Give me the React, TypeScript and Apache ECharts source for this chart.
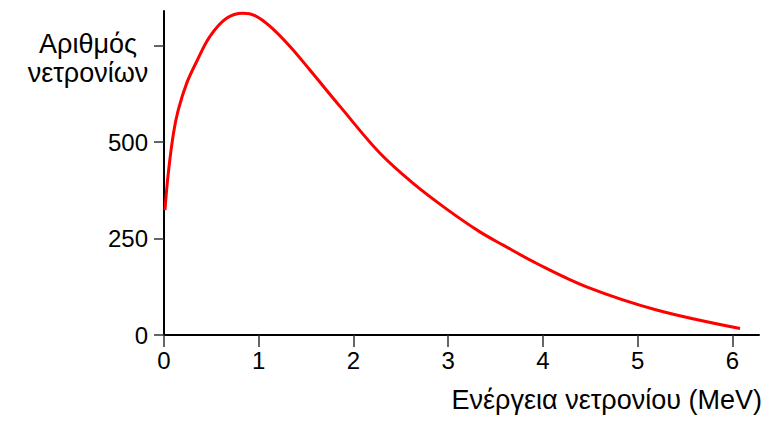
import React, { useEffect, useRef } from "react";
import * as echarts from "echarts";

// Neutron energy spectrum (fission neutrons)
const energyMeV = [0.01, 0.045, 0.1, 0.15, 0.24, 0.345, 0.485, 0.66, 0.835, 0.96, 1.12, 1.33, 1.54, 1.86, 2.28, 2.63, 2.98, 3.33, 3.58, 3.93, 4.46, 5.2, 6.08];
const neutronCount = [324, 419, 523, 583, 653, 709, 774, 821, 834, 828, 800, 748, 687, 592, 471, 393, 327, 268, 233, 186, 125, 65, 17];

const xTicks = [0, 1, 2, 3, 4, 5, 6];
const yTicks = [0, 250, 500, 750];
const yLabels = [0, 250, 500];

const yTitle = "Αριθμός\nνετρονίων";
const xTitle = "Ενέργεια νετρονίου (MeV)";

const FONT = "'Liberation Sans', Arial, sans-serif";

export default function App() {
  const ref = useRef<HTMLDivElement>(null);

  useEffect(() => {
    if (!ref.current) return;
    const chart = echarts.init(ref.current, null, { renderer: "svg" });
    chart.setOption({
      animation: false,
      backgroundColor: "#ffffff",
      grid: { left: 164, top: 11, right: 25, bottom: 88, containLabel: false },
      xAxis: {
        type: "value",
        min: 0,
        max: 6.28,
        axisLine: { show: true, lineStyle: { color: "#000", width: 2 } },
        axisTick: {
          show: true,
          length: 12,
          customValues: xTicks,
          lineStyle: { color: "#333", width: 1.5 },
        },
        axisLabel: {
          customValues: xTicks,
          margin: 13,
          color: "#000",
          fontFamily: FONT,
          fontSize: 24,
        },
        splitLine: { show: false },
      },
      yAxis: {
        type: "value",
        min: 0,
        max: 840,
        axisLine: { show: true, lineStyle: { color: "#000", width: 2 } },
        axisTick: {
          show: true,
          length: 10,
          customValues: yTicks,
          lineStyle: { color: "#333", width: 1.5 },
        },
        axisLabel: {
          customValues: yLabels,
          margin: 16,
          color: "#000",
          fontFamily: FONT,
          fontSize: 24,
        },
        splitLine: { show: false },
      },
      graphic: [
        {
          type: "text",
          x: 88,
          y: 29,
          style: {
            text: yTitle,
            fill: "#000",
            fontFamily: FONT,
            fontSize: 27,
            align: "center",
            verticalAlign: "top",
            lineHeight: 29,
          },
        },
        {
          type: "text",
          x: 762,
          y: 386,
          style: {
            text: xTitle,
            fill: "#000",
            fontFamily: FONT,
            fontSize: 27,
            align: "right",
            verticalAlign: "top",
          },
        },
      ],
      series: [
        {
          type: "line",
          data: energyMeV.map((e, i) => [e, neutronCount[i]]),
          smooth: 0.35,
          showSymbol: false,
          lineStyle: { color: "#ff0000", width: 3 },
        },
      ],
    });
    return () => chart.dispose();
  }, []);

  return <div ref={ref} style={{ width: 784, height: 423, margin: -8 }} />;
}
